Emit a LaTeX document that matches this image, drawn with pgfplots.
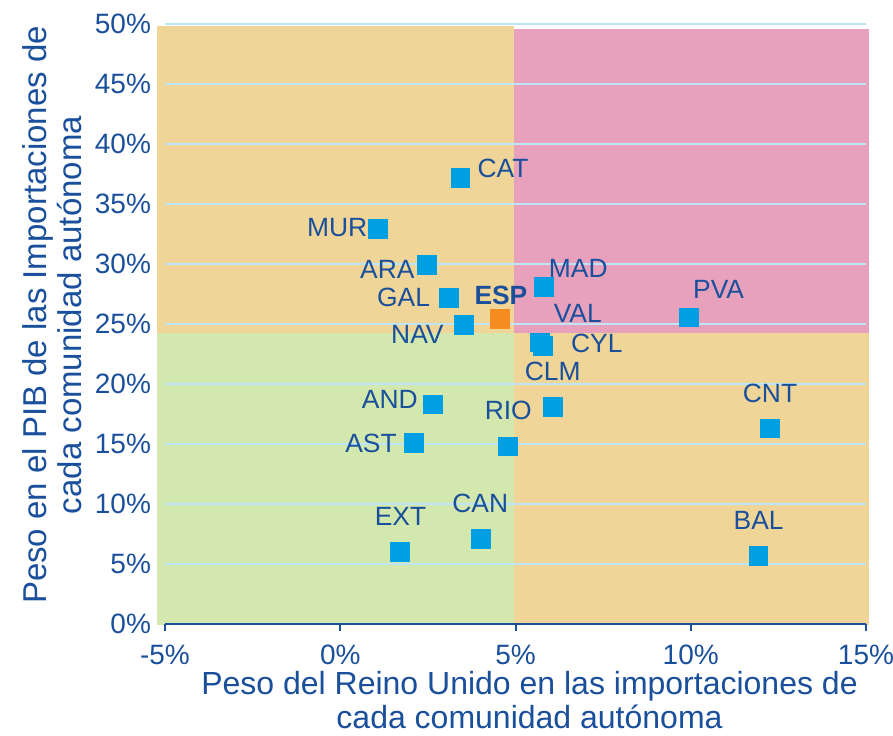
\documentclass[border=0pt]{standalone}
\usepackage{pgfplots}
\pgfplotsset{compat=1.18}
\usepackage{pgfplotstable}
\usepackage{fontspec}
\setmainfont{Liberation Sans}
\definecolor{txtblue}{HTML}{1A4F9C}
\definecolor{mblue}{HTML}{009FE3}
\definecolor{morange}{HTML}{F68B1F}
\definecolor{qorange}{HTML}{F0D598}
\definecolor{qpink}{HTML}{E8A1BD}
\definecolor{qgreen}{HTML}{D2E8AE}
\definecolor{gridblue}{HTML}{BDE5F5}

\pgfplotstableread{
name x y dx dy
CAT 3.43 37.2 21.3 4.5
MUR 1.08 32.9 -20.5 1.0
ARA 2.47 29.9 -19.75 -2.0
GAL 3.10 27.2 -22.65 0.0
NAV 3.53 24.9 -23.3 -4.6
MAD 5.81 28.1 17.2 9.35
VAL 5.70 23.46 18.85 14.35
CYL 5.78 23.2 27.0 1.0
CLM 6.06 18.1 0.0 17.9
AND 2.64 18.3 -21.5 2.3
RIO 4.78 14.8 0.25 17.75
AST 2.10 15.1 -21.4 -0.25
EXT 1.70 6.0 0.35 18.0
CAN 4.01 7.1 -0.25 17.75
BAL 11.93 5.7 0.1 17.8
PVA 9.94 25.56 15.0 13.9
CNT 12.25 16.3 0.2 17.5
}\regiones

\pgfplotstableread{
name x y dx dy
ESP 4.55 25.4 0.6 11.65
}\espana

\pgfplotstableread{
x y
-5.23 24.27
-5.23 49.83
4.95 49.83
4.95 24.27
}\qtl
\pgfplotstableread{
x y
4.95 24.27
4.95 49.6
15.08 49.6
15.08 24.27
}\qtr
\pgfplotstableread{
x y
-5.23 -0.06
-5.23 24.27
4.95 24.27
4.95 -0.06
}\qbl
\pgfplotstableread{
x y
4.95 -0.06
4.95 24.27
15.08 24.27
15.08 -0.06
}\qbr

\begin{document}
\begin{tikzpicture}
\begin{axis}[
  set layers,
  scale only axis, width=350.5pt, height=300pt,
  xmin=-5, xmax=15, ymin=0, ymax=50,
  clip=false,
  axis x line*=bottom, axis y line*=left,
  y axis line style={draw=none},
  x axis line style={draw=txtblue, line width=1pt},
  xtick={-5,0,5,10,15}, xticklabels={-5\%,0\%,5\%,10\%,15\%},
  ytick={0,5,10,15,20,25,30,35,40,45,50},
  yticklabels={0\%,5\%,10\%,15\%,20\%,25\%,30\%,35\%,40\%,45\%,50\%},
  ymajorgrids, grid style={draw=gridblue, line width=0.75pt},
  tick align=outside, major tick length=3.5pt,
  x tick style={draw=txtblue, line width=1pt},
  y tick style={draw=none},
  ticklabel style={font=\fontsize{14}{16}\selectfont, text=txtblue},
  xticklabel style={yshift=-3.5pt},
  xlabel={Peso del Reino Unido en las importaciones de\\cada comunidad autónoma},
  ylabel={Peso en el PIB de las Importaciones de\\cada comunidad autónoma},
  xlabel style={align=center, font=\fontsize{16}{17}\selectfont, text=txtblue, at={(axis description cs:0.52,-0.127)}, anchor=center},
  ylabel style={align=center, font=\fontsize{16.5}{17.5}\selectfont, text=txtblue, at={(axis description cs:-0.1612,0.515)}, anchor=center},
]
\addplot[fill=qorange, draw=none, on layer=axis background] table {\qtl};
\addplot[fill=qpink, draw=none, on layer=axis background] table {\qtr};
\addplot[fill=qgreen, draw=none, on layer=axis background] table {\qbl};
\addplot[fill=qorange, draw=none, on layer=axis background] table {\qbr};

\addplot[only marks, mark=square*, mark size=4.67pt, color=mblue,
  mark options={draw=none, fill=mblue},
  point meta=explicit symbolic,
  visualization depends on={\thisrow{dx} \as \dx},
  visualization depends on={\thisrow{dy} \as \dy},
  nodes near coords,
  nodes near coords style={font=\fontsize{13.2}{15}\selectfont, text=txtblue, anchor=center, xshift=\dx pt, yshift=\dy pt, inner sep=0pt},
] table[x=x, y=y, meta=name] {\regiones};

\addplot[only marks, mark=square*, mark size=4.67pt, color=morange,
  mark options={draw=none, fill=morange},
  point meta=explicit symbolic,
  visualization depends on={\thisrow{dx} \as \dx},
  visualization depends on={\thisrow{dy} \as \dy},
  nodes near coords,
  nodes near coords style={font=\fontsize{13.2}{15}\selectfont\bfseries, text=txtblue, anchor=center, xshift=\dx pt, yshift=\dy pt, inner sep=0pt},
] table[x=x, y=y, meta=name] {\espana};
\end{axis}
\pgfresetboundingbox
\path (current axis.south west) ++(-82.5pt,-55.5pt) rectangle ++(446.5pt,367.5pt);
\end{tikzpicture}
\end{document}
